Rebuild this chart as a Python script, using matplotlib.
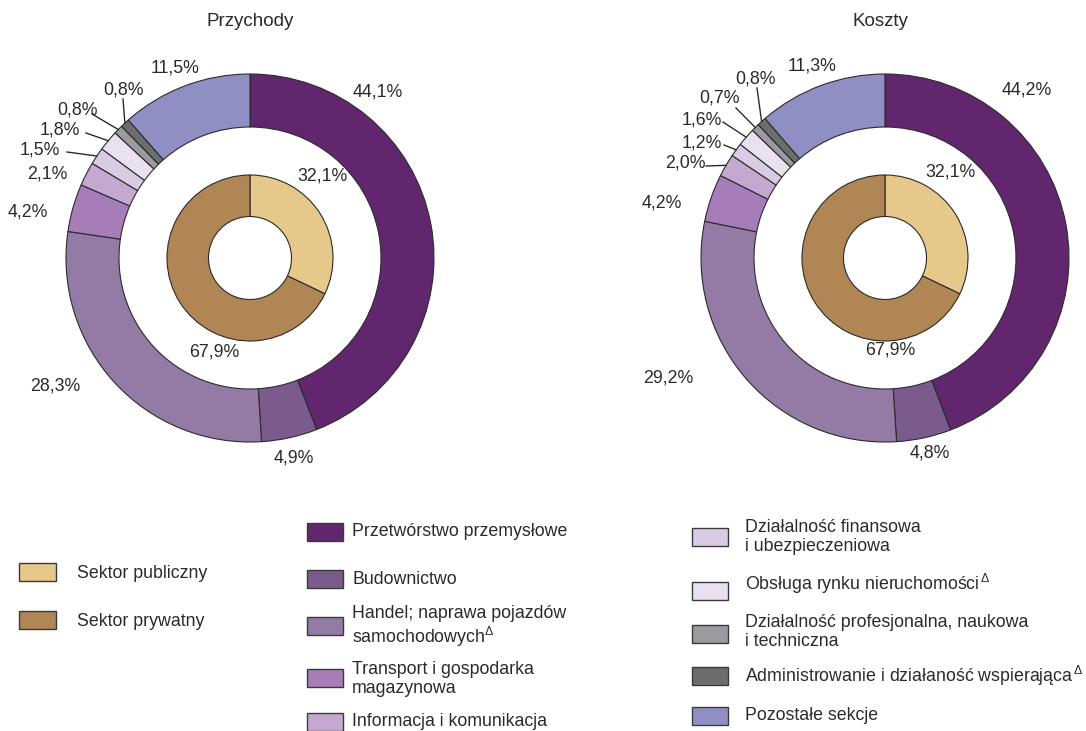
import numpy as np
import matplotlib
matplotlib.use("Agg")
import matplotlib.pyplot as plt
from matplotlib.patches import Rectangle

plt.rcParams['font.family'] = ['Liberation Sans', 'DejaVu Sans']
plt.rcParams['mathtext.fontset'] = 'custom'
plt.rcParams['mathtext.rm'] = 'Liberation Sans'
plt.rcParams['mathtext.it'] = 'Liberation Sans'

# dane
sekcje = ["Przetwórstwo przemysłowe", "Budownictwo",
          "Handel; naprawa pojazdów\nsamochodowych$^{\\Delta}$",
          "Transport i gospodarka\nmagazynowa", "Informacja i komunikacja",
          "Działalność finansowa\ni ubezpieczeniowa",
          "Obsługa rynku nieruchomości$^{\\,\\Delta}$",
          "Działalność profesjonalna, naukowa\ni techniczna",
          "Administrowanie i działaność wspierająca$^{\\,\\Delta}$",
          "Pozostałe sekcje"]
kolory = ["#62266f", "#7b5b8e", "#937ba6", "#a67db8", "#c5a8d0",
          "#dacbe4", "#e9e1ef", "#9a9a9f", "#6d6d70", "#8f8fc4"]
przychody = [44.1, 4.9, 28.3, 4.2, 2.1, 1.5, 1.8, 0.8, 0.8, 11.5]
koszty = [44.2, 4.8, 29.2, 4.2, 2.0, 1.2, 1.6, 0.7, 0.8, 11.3]

sektory = ["Sektor publiczny", "Sektor prywatny"]
kolory_sekt = ["#e6c88a", "#b08655"]
sekt_przychody = [32.1, 67.9]
sekt_koszty = [32.1, 67.9]

W, H = 1086, 731
fig = plt.figure(figsize=(W / 100, H / 100), dpi=100)
ax = fig.add_axes([0, 0, 1, 1])
txt = "#2a2a2a"
edge = "#2b2b2b"
fs = 12.8

def Y(y):
    return H - y

def fmt(v):
    return ("%.1f" % v).replace(".", ",") + "%"

R_out, w_out = 184, 53
R_in, w_in = 83, 41.5

# uklad etykiet (piksele od gory)
wykresy = [
    dict(tytul="Przychody", tx=250, cx=250, cy=258, vals=przychody, sekt=sekt_przychody,
         lab=[(378, 92), (294, 458), (55, 386), (28, 212), (47, 174), (40, 150),
              (60, 130), (77, 110), (123, 90), (175, 68)],
         linie={5: (67, 152), 6: (86, 133), 7: (92, 114), 8: (123, 99)},
         lab_in=[(322, 176), (214, 352)]),
    dict(tytul="Koszty", tx=880, cx=885, cy=258, vals=koszty, sekt=sekt_koszty,
         lab=[(1027, 90), (930, 453), (668, 378), (662, 203), (685, 163), (702, 143),
              (702, 120), (720, 98), (756, 79), (812, 66)],
         linie={4: (706, 166), 5: (724, 145), 6: (723, 122), 7: (736, 108), 8: (757, 88)},
         lab_in=[(950, 172), (890, 350)]),
]

for wk in wykresy:
    c = (wk["cx"], Y(wk["cy"]))
    ax.pie(wk["vals"], colors=kolory, startangle=90, counterclock=False,
           radius=R_out, center=c,
           wedgeprops=dict(width=w_out, edgecolor=edge, linewidth=0.8))
    ax.pie(wk["sekt"], colors=kolory_sekt, startangle=90, counterclock=False,
           radius=R_in, center=c,
           wedgeprops=dict(width=w_in, edgecolor=edge, linewidth=0.8))
    ax.text(wk["tx"], Y(22), wk["tytul"], ha="center", va="center", fontsize=13.5, color=txt)
    cum = np.cumsum(wk["vals"]) - np.array(wk["vals"]) / 2
    for i, v in enumerate(wk["vals"]):
        x, y = wk["lab"][i]
        ax.text(x, Y(y), fmt(v), ha="center", va="center", fontsize=fs, color=txt)
        if i in wk["linie"]:
            ang = np.deg2rad(90 - cum[i] / 100 * 360)
            ex = c[0] + R_out * np.cos(ang)
            ey = c[1] + R_out * np.sin(ang)
            sx, sy = wk["linie"][i]
            ax.plot([sx, ex], [Y(sy), ey], color=edge, lw=1)
    for i, v in enumerate(wk["sekt"]):
        x, y = wk["lab_in"][i]
        ax.text(x, Y(y), fmt(v), ha="center", va="center", fontsize=fs, color=txt)

# legenda
def box(x, y, w, h, col):
    ax.add_patch(Rectangle((x, Y(y + h)), w, h, facecolor=col, edgecolor="#3a3a3a", lw=1))

leg_sekt = [(563, 573), (611, 621)]
for i, s in enumerate(sektory):
    by, ty = leg_sekt[i]
    box(19, by, 37, 18, kolory_sekt[i])
    ax.text(77, Y(ty), s, ha="left", va="center", fontsize=fs, color=txt)

leg = [(307, 523, 532), (307, 570, 579), (307, 617, 627), (307, 669, 679), (307, 713, 721),
       (692, 528, 537), (692, 582, 584), (692, 625, 632), (692, 667, 676), (692, 707, 716)]
for i, s in enumerate(sekcje):
    bx, by, ty = leg[i]
    box(bx, by, 36, 18, kolory[i])
    ax.text(bx + 45 if bx < 600 else bx + 53, Y(ty), s, ha="left", va="center",
            fontsize=fs, color=txt, linespacing=1.2)

ax.set_xlim(0, W)
ax.set_ylim(0, H)
ax.axis("off")
fig.savefig("out.png", dpi=100)
